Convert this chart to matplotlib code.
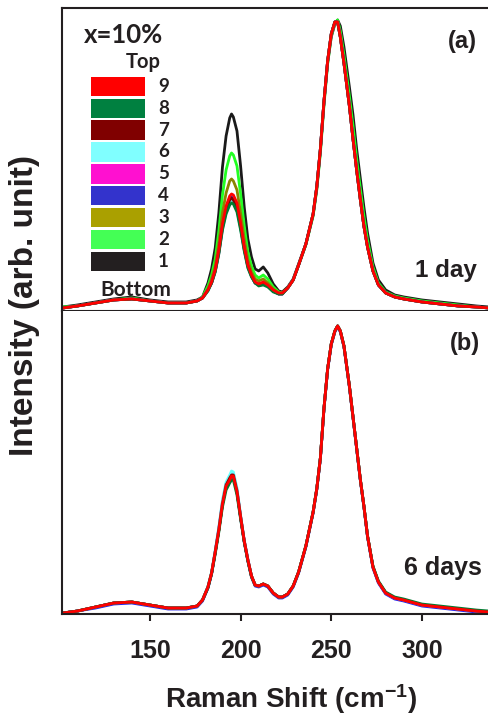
import matplotlib
matplotlib.use("Agg")
import matplotlib.pyplot as plt
from matplotlib.patches import Rectangle

plt.rcParams["font.family"] = "Liberation Sans"
plt.rcParams["font.weight"] = "bold"
plt.rcParams["mathtext.fontset"] = "custom"
plt.rcParams["mathtext.rm"] = "Liberation Sans:bold"
plt.rcParams["mathtext.default"] = "rm"

# Raman shift grid (cm-1) shared by all spectra
shift = [102, 110, 120, 130, 140, 150, 160, 170, 176,
         179, 182, 184, 186, 188, 190, 192, 194, 195, 196, 198, 200, 202, 204, 206, 208,
         210, 212.5, 215, 218, 221, 223,
         226, 229, 232, 236, 240, 242, 244, 246, 248, 250,
         252, 253.5, 255, 257, 260, 262, 264, 266, 268, 270,
         273, 276, 280, 285, 290, 300, 310, 320, 330, 337]

# (a) 1 day, layers 1 (bottom) .. 9 (top), arb. units
day1_1 = [4, 6, 9, 12, 14, 11, 9, 9, 11,
          14, 28, 42, 63, 98, 144, 175, 193, 197, 194, 180, 145, 104, 72, 54, 42,
          40, 44, 38, 27, 20, 19,
          24, 32, 47, 67, 96, 122, 160, 208, 248, 274,
          287, 291, 285, 264, 224, 196, 162, 133, 104, 78,
          48, 31, 21, 16, 14, 11, 9, 7, 5, 4]
day1_2 = [4, 5, 8, 11, 13, 10, 8, 8, 10,
          14, 25, 36, 52, 80, 116, 141, 155, 158, 156, 145, 117, 85, 59, 45, 36,
          33, 36, 32, 24, 19, 18,
          23, 31, 46, 66, 95, 121, 158, 206, 247, 275,
          288, 291, 280, 256, 215, 185, 152, 123, 95, 71,
          44, 28, 19, 15, 13, 10, 8, 6, 4, 3]
day1_3 = [3, 5, 8, 11, 12, 10, 8, 8, 10,
          13, 22, 32, 45, 68, 98, 118, 130, 132, 130, 121, 98, 72, 51, 39, 32,
          30, 32, 28, 22, 18, 18,
          23, 31, 46, 67, 97, 124, 162, 210, 250, 277,
          289, 289, 274, 248, 205, 172, 141, 112, 85, 64,
          40, 26, 18, 14, 12, 9, 7, 5, 4, 3]
day1_4 = [3, 5, 8, 11, 12, 10, 8, 8, 10,
          13, 21, 28, 40, 59, 85, 102, 112, 114, 112, 104, 85, 63, 45, 35, 28,
          26, 28, 25, 20, 17, 17,
          23, 31, 46, 67, 97, 124, 162, 210, 250, 277,
          289, 289, 274, 248, 205, 172, 141, 112, 85, 64,
          40, 26, 18, 14, 12, 9, 7, 5, 4, 3]
day1_5 = [3, 5, 8, 11, 12, 10, 8, 8, 10,
          13, 21, 28, 40, 58, 83, 100, 110, 112, 110, 103, 84, 62, 44, 35, 28,
          26, 28, 25, 20, 17, 17,
          23, 31, 46, 67, 97, 124, 162, 210, 250, 277,
          289, 289, 274, 248, 205, 172, 141, 112, 85, 64,
          40, 26, 18, 14, 12, 9, 7, 5, 4, 3]
day1_6 = [3, 5, 8, 11, 12, 10, 8, 8, 10,
          13, 20, 28, 39, 58, 82, 98, 108, 110, 108, 101, 82, 61, 44, 34, 28,
          26, 27, 25, 20, 17, 17,
          23, 31, 46, 67, 97, 124, 162, 210, 250, 277,
          289, 289, 274, 248, 205, 172, 141, 112, 85, 64,
          40, 26, 18, 14, 12, 9, 7, 5, 4, 3]
day1_7 = [3, 5, 8, 11, 12, 10, 8, 8, 10,
          13, 21, 28, 40, 59, 84, 101, 111, 113, 111, 103, 84, 62, 45, 35, 28,
          27, 28, 25, 20, 17, 17,
          23, 31, 46, 67, 97, 124, 162, 210, 250, 277,
          289, 289, 274, 248, 205, 172, 141, 112, 85, 64,
          40, 26, 18, 14, 12, 9, 7, 5, 4, 3]
day1_8 = [3, 5, 8, 11, 12, 10, 8, 8, 10,
          13, 20, 28, 39, 57, 81, 97, 106, 108, 107, 99, 81, 60, 43, 34, 28,
          25, 26, 24, 19, 17, 17,
          23, 31, 46, 67, 97, 124, 162, 210, 250, 277,
          289, 289, 274, 248, 205, 172, 141, 112, 85, 64,
          40, 26, 18, 14, 12, 9, 7, 5, 4, 3]
day1_9 = [3, 5, 8, 11, 12, 10, 8, 8, 10,
          13, 21, 29, 41, 61, 87, 105, 115, 117, 116, 108, 88, 64, 46, 36, 29,
          27, 29, 26, 21, 18, 18,
          23, 31, 46, 67, 97, 124, 162, 210, 250, 277,
          289, 289, 274, 248, 205, 172, 141, 112, 85, 64,
          40, 26, 18, 14, 12, 9, 7, 5, 4, 3]

# (b) 6 days
day6_1 = [1, 3, 7, 11, 12, 9, 6, 6, 8,
          14, 27, 41, 62, 85, 111, 129, 136, 140, 139, 123, 97, 73, 54, 38, 29,
          28, 30, 28, 21, 17, 17,
          20, 28, 42, 68, 102, 125, 156, 206, 245, 270,
          283, 288, 283, 268, 228, 197, 166, 135, 108, 78,
          47, 32, 21, 16, 14, 9, 7, 5, 3, 2]
day6_2 = [1, 3, 7, 11, 12, 9, 6, 6, 8,
          14, 27, 41, 62, 84, 110, 128, 135, 139, 138, 122, 97, 73, 54, 38, 29,
          28, 30, 28, 21, 17, 17,
          20, 28, 42, 68, 102, 125, 156, 206, 245, 270,
          283, 288, 283, 268, 228, 197, 166, 135, 108, 78,
          47, 32, 21, 16, 14, 9, 7, 5, 3, 2]
day6_3 = [1, 3, 7, 11, 12, 9, 6, 6, 8,
          14, 27, 41, 62, 85, 112, 130, 137, 141, 140, 124, 98, 73, 54, 38, 29,
          28, 30, 28, 21, 17, 17,
          20, 28, 42, 68, 102, 125, 156, 206, 245, 270,
          283, 288, 283, 268, 228, 197, 166, 135, 108, 78,
          47, 32, 21, 16, 14, 9, 7, 5, 3, 2]
day6_4 = [1, 3, 6, 10, 11, 8, 5, 5, 7,
          13, 26, 40, 61, 84, 110, 128, 135, 139, 138, 122, 96, 72, 53, 37, 28,
          27, 29, 27, 20, 16, 16,
          19, 27, 41, 67, 101, 124, 155, 205, 244, 269,
          282, 287, 282, 267, 227, 196, 165, 134, 107, 77,
          46, 31, 20, 15, 13, 8, 6, 4, 2, 1]
day6_5 = [1, 3, 7, 11, 12, 9, 6, 6, 8,
          14, 27, 41, 63, 86, 112, 130, 137, 141, 140, 124, 98, 74, 55, 38, 29,
          28, 30, 28, 21, 17, 17,
          20, 28, 42, 68, 102, 125, 156, 206, 245, 270,
          283, 288, 283, 268, 228, 197, 166, 135, 108, 78,
          47, 32, 21, 16, 14, 9, 7, 5, 3, 2]
day6_6 = [1, 3, 7, 11, 12, 9, 6, 6, 8,
          14, 28, 42, 64, 87, 114, 132, 139, 143, 142, 126, 99, 74, 55, 38, 29,
          28, 30, 28, 21, 17, 17,
          20, 28, 42, 68, 102, 125, 156, 206, 245, 270,
          283, 288, 283, 268, 228, 197, 166, 135, 108, 78,
          47, 32, 21, 16, 14, 9, 7, 5, 3, 2]
day6_7 = [1, 3, 7, 11, 12, 9, 6, 6, 8,
          14, 27, 41, 62, 84, 110, 129, 136, 139, 139, 123, 97, 73, 54, 38, 29,
          28, 30, 28, 21, 17, 17,
          20, 28, 42, 68, 102, 125, 156, 206, 245, 270,
          283, 288, 283, 268, 228, 197, 166, 135, 108, 78,
          47, 32, 21, 16, 14, 9, 7, 5, 3, 2]
day6_8 = [1, 3, 7, 11, 12, 9, 6, 6, 8,
          14, 26, 40, 60, 82, 107, 124, 131, 134, 134, 119, 95, 72, 53, 37, 29,
          28, 30, 28, 21, 17, 17,
          20, 28, 42, 68, 102, 125, 156, 206, 245, 270,
          283, 288, 283, 268, 228, 197, 166, 135, 108, 78,
          48, 33, 22, 17, 15, 10, 8, 6, 4, 3]
day6_9 = [1, 3, 7, 11, 12, 9, 6, 6, 8,
          14, 27, 41, 62, 84, 110, 128, 134, 138, 138, 122, 97, 73, 54, 38, 29,
          28, 30, 28, 21, 17, 17,
          20, 28, 42, 68, 102, 125, 156, 206, 245, 270,
          283, 288, 283, 268, 228, 197, 166, 135, 108, 78,
          47, 32, 21, 16, 14, 9, 7, 5, 3, 2]

layers = ["1", "2", "3", "4", "5", "6", "7", "8", "9"]
line_colors = ["#1a1a1a", "#22ff22", "#8a8400", "#2222ee", "#ff00dd",
               "#66ffff", "#800000", "#007a30", "#ff0000"]
legend_colors = ["#231f20", "#44ff55", "#aaa000", "#3333cc", "#ff10d0",
                 "#80ffff", "#800000", "#008040", "#ff0000"]

day1 = [day1_1, day1_2, day1_3, day1_4, day1_5, day1_6, day1_7, day1_8, day1_9]
day6 = [day6_1, day6_2, day6_3, day6_4, day6_5, day6_6, day6_7, day6_8, day6_9]

fig = plt.figure(figsize=(4.89, 7.19), dpi=100)
ax_a = fig.add_axes([0.1268, 0.5675, 0.8732, 0.4214])
ax_b = fig.add_axes([0.1268, 0.146, 0.8732, 0.4215])

for ax, spectra in [(ax_a, day1), (ax_b, day6)]:
    for y, c in zip(spectra, line_colors):
        ax.plot(shift, y, color=c, lw=2.0, solid_joinstyle="round")
    ax.set_xlim(101.5, 337)
    ax.set_ylim(0, 303)
    ax.set_yticks([])
    ax.spines["right"].set_visible(False)
    for s in ["left", "top", "bottom"]:
        ax.spines[s].set_linewidth(1.5)
        ax.spines[s].set_color("#231f20")

ax_a.set_xticks([])
ax_b.spines["top"].set_visible(False)
ax_b.set_xticks([150, 200, 250, 300])
ax_b.tick_params(axis="x", direction="out", length=5, width=1.5, pad=13,
                 labelsize=18, color="#231f20", labelcolor="#231f20")

# legend drawn as coloured blocks, top layer first
for k, lab in enumerate(reversed(layers)):
    yc = 0.7416 - k * 0.07228
    col = legend_colors[len(layers) - 1 - k]
    ax_a.add_patch(Rectangle((0.068, yc - 0.0318), 0.1265, 0.0637,
                             transform=ax_a.transAxes, color=col, lw=0))
    ax_a.text(0.225, yc, lab, transform=ax_a.transAxes, ha="left", va="center",
              fontsize=13.5, family="Lato", weight="bold", color="#231f20")

ax_a.text(0.143, 0.911, "x=10%", transform=ax_a.transAxes, ha="center", va="center",
          fontsize=18.5, family="Lato", weight="bold", color="#231f20")
ax_a.text(0.19, 0.822, "Top", transform=ax_a.transAxes, ha="center", va="center",
          fontsize=14.5, family="Lato", weight="bold", color="#231f20")
ax_a.text(0.173, 0.069, "Bottom", transform=ax_a.transAxes, ha="center", va="center",
          fontsize=15, family="Lato", weight="bold", color="#231f20")

ax_a.text(0.937, 0.888, "(a)", transform=ax_a.transAxes, ha="center", va="center",
          fontsize=17, color="#231f20")
ax_a.text(0.899, 0.135, "1 day", transform=ax_a.transAxes, ha="center", va="center",
          fontsize=17.5, color="#231f20")
ax_b.text(0.944, 0.894, "(b)", transform=ax_b.transAxes, ha="center", va="center",
          fontsize=17, color="#231f20")
ax_b.text(0.892, 0.152, "6 days", transform=ax_b.transAxes, ha="center", va="center",
          fontsize=18, color="#231f20")

fig.text(0.051, 0.575, "Intensity (arb. unit)", rotation=90, ha="center", va="center",
         fontsize=24, color="#231f20")
fig.text(0.595, 0.027, r"Raman Shift (cm$^{-1}$)", ha="center", va="center",
         fontsize=20, color="#231f20")

fig.savefig("out.png", dpi=100)
